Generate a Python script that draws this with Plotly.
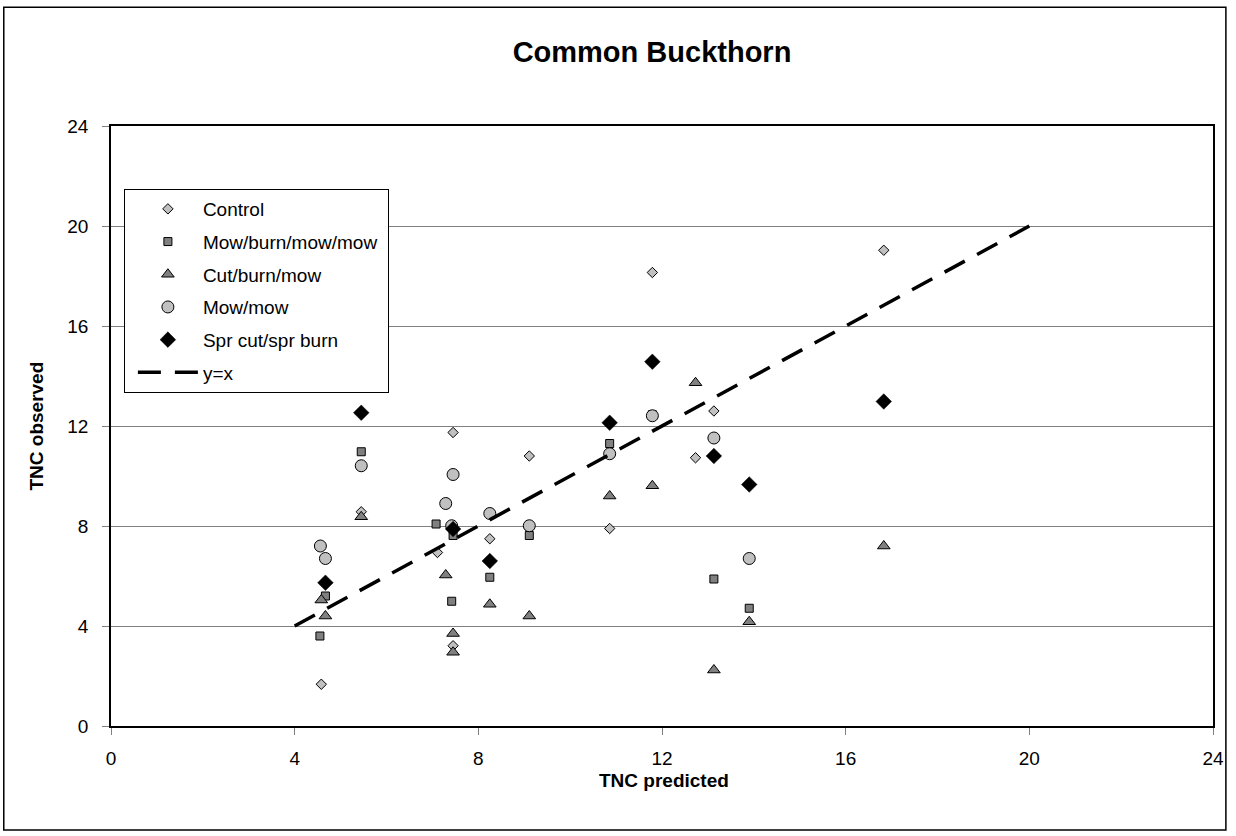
import plotly.graph_objects as go

# ---- data ----
control_x = [4.58, 5.45, 7.11, 7.45, 7.45, 8.25, 9.11, 10.86, 11.79, 12.73, 13.13, 16.83]
control_y = [1.67, 8.57, 6.94, 11.74, 3.21, 7.49, 10.80, 7.90, 18.14, 10.73, 12.60, 19.03]

mbmm_x = [4.55, 4.67, 5.45, 7.08, 7.45, 7.42, 8.25, 9.11, 10.86, 11.79, 13.13, 13.90]
mbmm_y = [3.60, 5.20, 10.97, 8.08, 7.62, 4.99, 5.95, 7.62, 11.30, 12.45, 5.88, 4.71]

cbm_x = [4.58, 4.67, 5.45, 7.29, 7.45, 7.45, 8.25, 9.11, 10.86, 11.79, 12.73, 13.13, 13.90, 16.83]
cbm_y = [5.04, 4.40, 8.37, 6.04, 3.70, 2.95, 4.87, 4.40, 9.20, 9.61, 13.73, 2.24, 4.17, 7.20]

mm_x = [4.56, 4.67, 5.45, 7.29, 7.45, 7.42, 8.25, 9.11, 10.86, 11.79, 13.13, 13.90]
mm_y = [7.20, 6.70, 10.41, 8.90, 10.06, 8.01, 8.50, 8.01, 10.89, 12.41, 11.52, 6.70]

spr_x = [4.67, 5.45, 7.45, 8.25, 10.86, 11.79, 13.13, 13.90, 16.83]
spr_y = [5.73, 12.53, 7.88, 6.60, 12.13, 14.57, 10.80, 9.66, 12.98]

line_x = [4, 20]
line_y = [4, 20]

series_names = ["Control", "Mow/burn/mow/mow", "Cut/burn/mow", "Mow/mow", "Spr cut/spr burn", "y=x"]
tick_vals = [0, 4, 8, 12, 16, 20, 24]

FONT = "Liberation Sans, Arial, sans-serif"

fig = go.Figure()

fig.add_trace(go.Scatter(x=control_x, y=control_y, mode="markers", name=series_names[0],
                         legendgroup="g0",
                         marker=dict(symbol="diamond", size=8, color="#C0C0C0",
                                     line=dict(color="black", width=1))))
fig.add_trace(go.Scatter(x=mbmm_x, y=mbmm_y, mode="markers", name=series_names[1] + "\u00a0",
                         legendgroup="g1",
                         marker=dict(symbol="square", size=8, color="#808080",
                                     line=dict(color="black", width=1))))
fig.add_trace(go.Scatter(x=cbm_x, y=cbm_y, mode="markers", name=series_names[2],
                         legendgroup="g2",
                         marker=dict(symbol="triangle-up", size=11, color="#808080",
                                     line=dict(color="black", width=1))))
fig.add_trace(go.Scatter(x=mm_x, y=mm_y, mode="markers", name=series_names[3],
                         legendgroup="g3",
                         marker=dict(symbol="circle", size=12, color="#C0C0C0",
                                     line=dict(color="black", width=1))))
fig.add_trace(go.Scatter(x=spr_x, y=spr_y, mode="markers", name=series_names[4],
                         legendgroup="g4",
                         marker=dict(symbol="diamond", size=12, color="black",
                                     line=dict(color="black", width=0.5))))
fig.add_trace(go.Scatter(x=line_x, y=line_y, mode="lines", name=series_names[5],
                         legendgroup="g5",
                         line=dict(color="black", width=3.5, dash="23px,14px")))

axis_common = dict(range=[0, 24], tickmode="array", tickvals=tick_vals,
                   showline=True, linecolor="black", linewidth=1.5, mirror=True,
                   ticks="outside", ticklen=7, tickcolor="#808080", tickwidth=1,
                   tickfont=dict(family=FONT, size=19, color="black"),
                   zeroline=False, fixedrange=True)

fig.update_xaxes(**axis_common, showgrid=False, ticklabelstandoff=7)
fig.update_yaxes(**axis_common, showgrid=True, gridcolor="#808080", gridwidth=1,
                 ticklabelstandoff=10)

fig.update_layout(
    width=1236, height=836,
    margin=dict(l=111, r=15, t=126, b=110),
    paper_bgcolor="white", plot_bgcolor="white",
    font=dict(family=FONT, color="black"),
    title=dict(text="<b>Common Buckthorn</b>", font=dict(family=FONT, size=29, color="black"),
               xref="container", yref="container", x=652 / 1236, y=1 - 52 / 836,
               xanchor="center", yanchor="middle"),
    showlegend=True,
    legend=dict(x=0.0117, y=0.895, xanchor="left", yanchor="top",
                bgcolor="white", bordercolor="black", borderwidth=1,
                font=dict(family=FONT, size=19, color="black"),
                itemwidth=60, tracegroupgap=5, traceorder="grouped", indentation=8),
    annotations=[
        dict(text="<b>TNC predicted</b>", xref="paper", yref="paper",
             x=0.502, y=-0.09, showarrow=False, xanchor="center", yanchor="middle",
             font=dict(family=FONT, size=19, color="black")),
        dict(text="<b>TNC observed</b>", xref="paper", yref="paper",
             x=-0.0685, y=0.5, showarrow=False, xanchor="center", yanchor="middle",
             textangle=-90, font=dict(family=FONT, size=19, color="black")),
    ],
    shapes=[
        dict(type="rect", xref="paper", yref="paper",
             x0=-0.0973, x1=1.0117, y0=-0.1733, y1=1.198,
             line=dict(color="black", width=1.5), fillcolor="rgba(0,0,0,0)", layer="below"),
    ],
)

fig.write_html("out.html", config={"displayModeBar": False},
               post_script="document.body.style.margin='0';")
